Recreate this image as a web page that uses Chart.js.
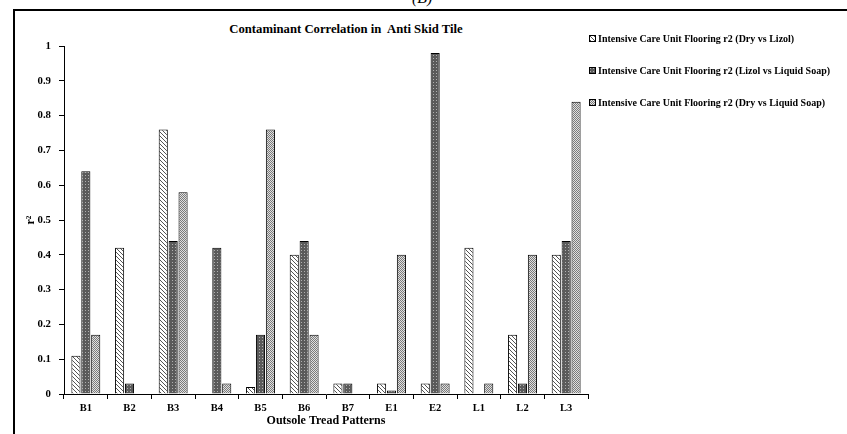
<!DOCTYPE html>
<html>
<head>
<meta charset="utf-8">
<script src="https://cdn.jsdelivr.net/npm/chart.js@4.4.1/dist/chart.umd.min.js"></script>
<style>
  html, body { margin: 0; padding: 0; background: #fff; overflow: hidden; }
  #wrap { position: relative; width: 847px; height: 434px; }
  #frame { position: absolute; left: 13px; top: 9px; width: 900px; height: 500px; border: 2px solid #000; box-sizing: border-box; }
  #topLabel { position: absolute; left: 412px; top: -11px; font: italic 16px "Liberation Serif", serif; color: #000; }
  #title { position: absolute; left: 0; width: 692px; top: 22px; text-align: center; font: bold 12.7px "Liberation Serif", serif; color: #000; }
  canvas#c { position: absolute; left: 0; top: 0; }
  .leg { position: absolute; left: 589px; font: bold 10px "Liberation Serif", serif; color: #000; white-space: nowrap; display: flex; align-items: center; }
  .leg canvas { width: 7px; height: 7px; margin-right: 2px; }
</style>
</head>
<body>
<div id="wrap">
  <div id="frame"></div>
  <div id="topLabel">(B)</div>
  <div id="title">Contaminant Correlation in&nbsp; Anti Skid Tile</div>
  <canvas id="c" width="847" height="434"></canvas>
</div>
<script>
const categories = ["B1","B2","B3","B4","B5","B6","B7","E1","E2","L1","L2","L3"];
const seriesLabels = [
  "Intensive Care Unit Flooring r2 (Dry vs Lizol)",
  "Intensive Care Unit Flooring r2 (Lizol vs Liquid Soap)",
  "Intensive Care Unit Flooring r2 (Dry vs Liquid Soap)"
];
const dryVsLizol        = [0.11, 0.42, 0.76, 0.00, 0.02, 0.40, 0.03, 0.03, 0.03, 0.42, 0.17, 0.40];
const lizolVsLiquidSoap = [0.64, 0.03, 0.44, 0.42, 0.17, 0.44, 0.03, 0.01, 0.98, 0.00, 0.03, 0.44];
const dryVsLiquidSoap   = [0.17, 0.00, 0.58, 0.03, 0.76, 0.17, 0.00, 0.40, 0.03, 0.03, 0.40, 0.84];
const yTicks = [0, 0.1, 0.2, 0.3, 0.4, 0.5, 0.6, 0.7, 0.8, 0.9, 1];

function makePattern(kind) {
  const t = document.createElement('canvas');
  const g = t.getContext('2d');
  if (kind === 0) {
    t.width = 4; t.height = 4;
    g.fillStyle = '#fff'; g.fillRect(0,0,4,4);
    g.fillStyle = '#555';
    for (let i = 0; i < 4; i++) { g.fillRect(i, i, 1, 1); }
  } else if (kind === 1) {
    t.width = 3; t.height = 3;
    g.fillStyle = '#5a5a5a'; g.fillRect(0,0,3,3);
    g.fillStyle = '#b0b0b0'; g.fillRect(1,1,1,1);
  } else {
    t.width = 2; t.height = 2;
    g.fillStyle = '#e0e0e0'; g.fillRect(0,0,2,2);
    g.fillStyle = '#7a7a7a'; g.fillRect(0,0,1,1); g.fillRect(1,1,1,1);
  }
  return t;
}
const ctx = document.getElementById('c').getContext('2d');
const tiles = [makePattern(0), makePattern(1), makePattern(2)];
const pats = tiles.map(t => ctx.createPattern(t, 'repeat'));

const F = "'Liberation Serif', 'Times New Roman', serif";
const seriesData = [dryVsLizol, lizolVsLiquidSoap, dryVsLiquidSoap];

new Chart(ctx, {
  type: 'bar',
  data: {
    labels: categories,
    datasets: seriesData.map((d, i) => ({
      label: seriesLabels[i],
      data: d,
      backgroundColor: pats[i],
      borderColor: '#000',
      borderWidth: 1,
      borderSkipped: 'bottom',
      categoryPercentage: 0.68,
      barPercentage: 0.92
    }))
  },
  options: {
    responsive: false,
    animation: false,
    layout: { padding: { top: 46, right: 259, left: 0, bottom: 0 } },
    plugins: { legend: { display: false }, title: { display: false }, tooltip: { enabled: false } },
    scales: {
      x: {
        offset: true,
        grid: { display: true, offset: true, drawOnChartArea: false, drawTicks: true, tickLength: 5, color: '#000', lineWidth: 1 },
        border: { display: true, color: '#000', width: 1 },
        ticks: { color: '#000', font: { family: F, size: 10.5, weight: 'bold' }, padding: 3, maxRotation: 0 },
        title: { display: true, text: 'Outsole Tread Patterns', color: '#000', font: { family: F, size: 12, weight: 'bold' }, padding: { top: 0, bottom: 6 } },
        afterFit(s) { s.height = 40; }
      },
      y: {
        min: 0, max: 1,
        afterBuildTicks(s) { s.ticks = yTicks.map(v => ({ value: v })); },
        grid: { display: true, drawOnChartArea: false, drawTicks: true, tickLength: 5, color: '#000', lineWidth: 1 },
        border: { display: true, color: '#000', width: 1 },
        ticks: { color: '#000', font: { family: F, size: 10.8, weight: 'bold' }, padding: 8, callback: v => String(v) },
        title: { display: true, text: 'r²', color: '#000', font: { family: F, size: 12, weight: 'bold' }, padding: { top: 24, bottom: 0 } },
        afterFit(s) { s.width = 64; }
      }
    }
  }
});

// HTML legend
const legY = [40, 72, 104];
seriesLabels.forEach((lab, i) => {
  const d = document.createElement('div');
  d.className = 'leg';
  d.style.top = (legY[i] - 7) + 'px';
  const sw = document.createElement('canvas');
  sw.width = 7; sw.height = 7;
  const g = sw.getContext('2d');
  g.fillStyle = g.createPattern(tiles[i], 'repeat');
  g.fillRect(0,0,7,7);
  g.strokeStyle = '#000'; g.lineWidth = 1; g.strokeRect(0.5,0.5,6,6);
  d.appendChild(sw);
  const sp = document.createElement('span');
  sp.textContent = lab;
  d.appendChild(sp);
  document.getElementById('wrap').appendChild(d);
});
</script>
</body>
</html>
